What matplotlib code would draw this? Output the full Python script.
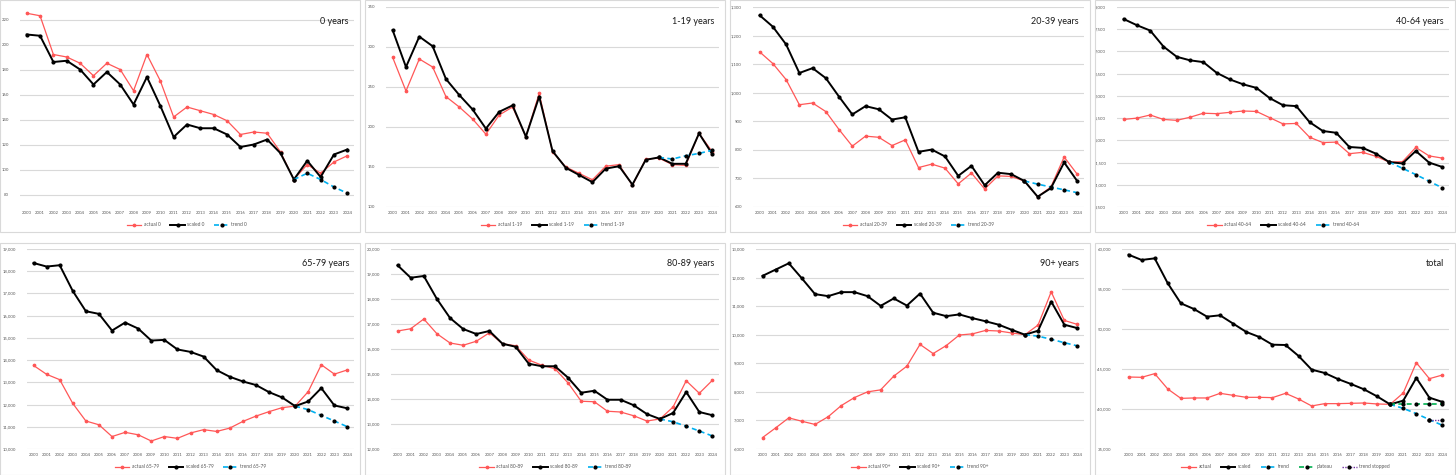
import matplotlib
matplotlib.use("Agg")
import matplotlib.pyplot as plt
from matplotlib.patches import Rectangle
from matplotlib.ticker import FuncFormatter, MultipleLocator

plt.rcParams['font.family'] = ['Lato', 'DejaVu Sans']

years = [str(y) for y in range(2000, 2025)]
trend_years = years[20:]

actual_0 = [225, 223, 192, 190, 185, 175, 185, 180, 163, 192, 171, 142, 150, 147, 144,
            139, 128, 130, 129, 114, 92, 104, 97, 106, 111]
scaled_0 = [208, 207, 186, 187, 180, 168, 178, 168, 152, 174, 151, 126, 136, 133, 133,
            128, 118, 120, 124, 113, 92, 107, 94, 112, 116]
trend_0 = [92, 97, 92, 86, 81]

actual_1_19 = [287, 245, 285, 275, 238, 225, 210, 191, 215, 225, 188, 242, 169, 150, 142,
               134, 151, 153, 127, 160, 161, 153, 152, 192, 169]
scaled_1_19 = [321, 275, 313, 301, 260, 240, 222, 198, 219, 227, 188, 238, 170, 149, 140,
               131, 148, 151, 128, 159, 162, 154, 154, 192, 166]
trend_1_19 = [162, 160, 164, 167, 171]

actual_20_39 = [1143, 1102, 1046, 958, 964, 934, 871, 813, 848, 844, 815, 835, 738, 750, 736,
                681, 719, 663, 709, 707, 691, 636, 670, 775, 714]
scaled_20_39 = [1271, 1231, 1169, 1069, 1086, 1051, 986, 924, 953, 942, 906, 914, 793, 801, 777,
                709, 744, 676, 720, 715, 691, 636, 666, 756, 690]
trend_20_39 = [691, 680, 670, 660, 650]

actual_40_64 = [5470, 5500, 5570, 5470, 5450, 5520, 5610, 5600, 5630, 5660, 5650, 5510, 5370, 5380, 5070,
                4950, 4960, 4700, 4730, 4640, 4510, 4520, 4840, 4650, 4600]
scaled_40_64 = [7730, 7590, 7470, 7110, 6880, 6800, 6760, 6520, 6370, 6260, 6180, 5950, 5790, 5770, 5410,
                5210, 5170, 4850, 4830, 4700, 4510, 4480, 4760, 4500, 4400]
trend_40_64 = [4510, 4370, 4230, 4080, 3930]

actual_65_79 = [13760, 13360, 13120, 12050, 11260, 11090, 10560, 10750, 10640, 10360, 10560, 10480, 10720, 10870, 10790,
                10940, 11240, 11480, 11680, 11860, 11930, 12580, 13790, 13370, 13560]
scaled_65_79 = [18370, 18210, 18270, 17110, 16200, 16080, 15330, 15690, 15420, 14880, 14910, 14480, 14370, 14160, 13550,
                13250, 13040, 12880, 12560, 12320, 11930, 12140, 12740, 11960, 11830]
trend_65_79 = [11930, 11770, 11510, 11260, 11000]

actual_80_89 = [16720, 16810, 17200, 16610, 16240, 16150, 16310, 16650, 16210, 16130, 15560, 15350, 15210, 14640, 13910,
                13890, 13510, 13480, 13330, 13120, 13200, 13680, 14730, 14230, 14750]
scaled_80_89 = [19350, 18850, 18920, 18000, 17240, 16800, 16600, 16720, 16210, 16090, 15410, 15310, 15310, 14850, 14250,
                14330, 13970, 13970, 13750, 13400, 13200, 13440, 14280, 13480, 13350]
trend_80_89 = [13200, 13090, 12910, 12720, 12520]

actual_90 = [6400, 6740, 7090, 6970, 6860, 7130, 7520, 7800, 8000, 8070, 8550, 8900, 9660, 9340, 9620,
             9990, 10030, 10150, 10130, 10060, 10000, 10340, 11500, 10500, 10360]
scaled_90 = [12060, 12280, 12500, 11970, 11420, 11350, 11490, 11490, 11350, 11010, 11270, 11020, 11440, 10770, 10650,
             10710, 10580, 10470, 10350, 10170, 10000, 10140, 11160, 10350, 10230]
trend_90 = [10000, 9950, 9840, 9720, 9610]

actual_total = [44000, 43960, 44420, 42500, 41330, 41380, 41380, 41960, 41710, 41460, 41460, 41420, 41960, 41250, 40380,
                40670, 40670, 40710, 40750, 40630, 40580, 42000, 45790, 43790, 44250]
scaled_total = [59290, 58630, 58830, 55710, 53210, 52500, 51540, 51710, 50670, 49630, 49000, 48040, 48000, 46630, 44920,
                44500, 43750, 43130, 42460, 41580, 40580, 41040, 43880, 41420, 40880]
trend_total = [40580, 40080, 39420, 38670, 37960]
plateau_total = [40580, 40580, 40580, 40580, 40580]
stopped_years = years[23:]
stopped_total = [38670, 38670]

panels = [
    ("0 years", "0", actual_0, scaled_0, trend_0, 70, 230, 20),
    ("1-19 years", "1-19", actual_1_19, scaled_1_19, trend_1_19, 100, 350, 50),
    ("20-39 years", "20-39", actual_20_39, scaled_20_39, trend_20_39, 600, 1300, 100),
    ("40-64 years", "40-64", actual_40_64, scaled_40_64, trend_40_64, 3500, 8000, 500),
    ("65-79 years", "65-79", actual_65_79, scaled_65_79, trend_65_79, 10000, 19000, 1000),
    ("80-89 years", "80-89", actual_80_89, scaled_80_89, trend_80_89, 12000, 20000, 1000),
    ("90+ years", "90+", actual_90, scaled_90, trend_90, 6000, 13000, 1000),
    ("total", "", actual_total, scaled_total, trend_total, 35000, 60000, 5000),
]

W, H = 1456, 475
RED = '#ff5757'
BLUE = '#00b0f0'
GRID = '#d9d9d9'
TXT = '#595959'

fig = plt.figure(figsize=(W / 100, H / 100), dpi=100)

left_off = [20, 21, 23, 22, 27, 26, 26, 27]
x = list(range(len(years)))
xt = list(range(20, 25))

for i, (title, tag, actual, scaled, trend, ymin, ymax, step) in enumerate(panels):
    col, row = i % 4, i // 4
    px0 = col * 365
    py0 = 0 if row == 0 else 243
    pw = 360
    ph = 232

    # panel frame
    fig.patches.append(Rectangle((px0 / W, 1 - (py0 + ph) / H), pw / W, ph / H,
                                 transform=fig.transFigure, fill=False,
                                 edgecolor=GRID, linewidth=0.8))

    top = py0 + (7 if row == 0 else 6)
    bottom = py0 + (207 if row == 0 else 206)
    left = px0 + left_off[i]
    right = px0 + 354
    ax = fig.add_axes([left / W, 1 - bottom / H, (right - left) / W, (bottom - top) / H])

    sfx = (" " + tag) if tag else ""
    ax.plot(x, actual, color=RED, lw=0.9, marker='o', ms=1.7, label="actual" + sfx, zorder=3)
    ax.plot(x, scaled, color='black', lw=1.4, marker='o', ms=2.0, label="scaled" + sfx, zorder=4)
    ax.plot(xt, trend, color=BLUE, lw=1.2, ls=(0, (3, 2)), marker='o', ms=2.0,
            mfc='black', mec='black', label="trend" + sfx, zorder=5)
    if i == 7:
        ax.plot(xt, plateau_total, color='#00b050', lw=1.2, ls=(0, (3, 2)), marker='o', ms=2.0,
                mfc='black', mec='black', label="plateau", zorder=5)
        ax.plot([23, 24], stopped_total, color='#7030a0', lw=1.0, ls=(0, (1, 1)), marker='o', ms=2.0,
                mfc='black', mec='black', label="trend stopped", zorder=5)

    ax.set_xlim(-0.5, 24.5)
    ax.set_ylim(ymin, ymax)
    ax.yaxis.set_major_locator(MultipleLocator(step))
    ax.yaxis.set_major_formatter(FuncFormatter(lambda v, p: f"{v:,.0f}"))
    ax.set_xticks(x)
    ax.set_xticklabels(years)
    ax.grid(axis='y', color=GRID, lw=0.8)
    ax.set_axisbelow(True)
    for s in ax.spines.values():
        s.set_visible(False)
    ax.tick_params(axis='both', length=0, labelsize=3.1, colors=TXT)
    ax.tick_params(axis='y', pad=8)
    ax.tick_params(axis='x', pad=3)

    ax.text(0.985, 0.925, title, transform=ax.transAxes, ha='right', va='center',
            fontsize=6.5, color='#1a1a1a')

    ax.legend(loc='upper center', bbox_to_anchor=(0.5, -0.055), ncol=5, frameon=False,
              fontsize=3.5, handlelength=3.0, handletextpad=0.5, columnspacing=2.0,
              labelcolor=TXT)

fig.savefig("out.png", dpi=100, facecolor='white')
